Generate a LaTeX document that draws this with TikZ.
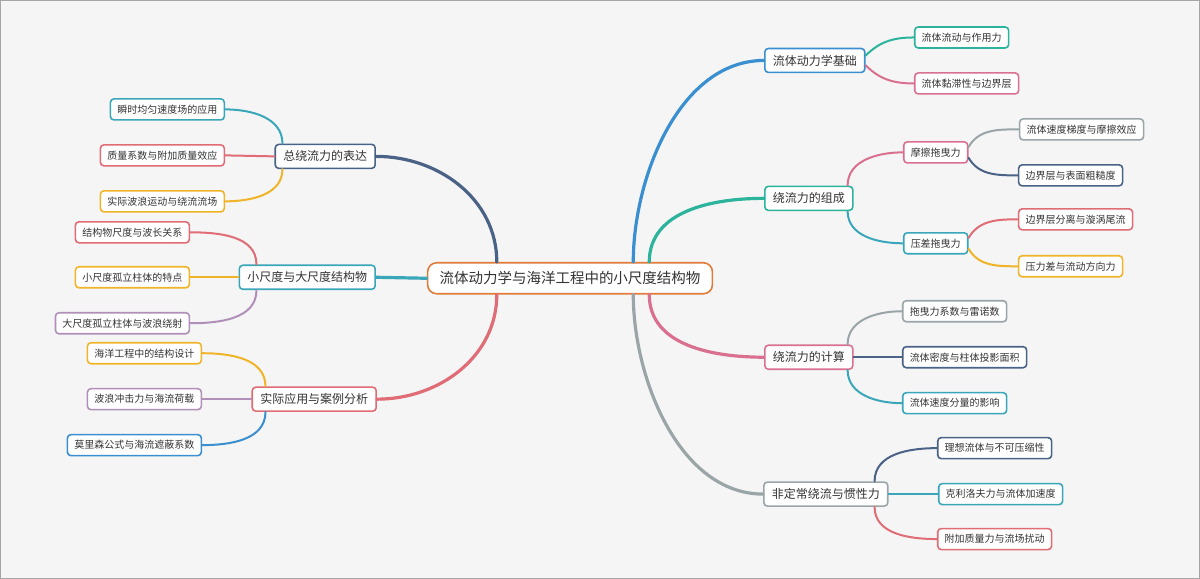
\documentclass[tikz,border=0pt]{standalone}
\usepackage{fontspec}
\usetikzlibrary{calc}
\setmainfont{Noto Sans CJK SC}
\definecolor{cblue}{HTML}{3A8FD0}
\definecolor{cteal}{HTML}{2BB39B}
\definecolor{cpink}{HTML}{D9708F}
\definecolor{cgray}{HTML}{9AA5A8}
\definecolor{ccyan}{HTML}{3AA6B9}
\definecolor{cdark}{HTML}{4A6285}
\definecolor{cred}{HTML}{E06C75}
\definecolor{cyel}{HTML}{F0B429}
\definecolor{cpur}{HTML}{B08FB8}
\definecolor{corg}{HTML}{E07B39}
\definecolor{ctext}{HTML}{333333}
\begin{document}
\begin{tikzpicture}[x=1pt,y=1pt,
  box/.style={draw=#1,fill=white,rounded corners=3.5pt,line width=1.6pt,text=ctext,inner xsep=7pt,inner ysep=0pt,anchor=center},
  leaf/.style={box=#1,minimum height=21pt,font=\fontsize{10}{11}\selectfont},
  lone/.style={box=#1,minimum height=24pt,font=\fontsize{12}{13}\selectfont,inner xsep=8pt},
  rootbox/.style={box=#1,minimum height=31pt,font=\fontsize{14.5}{15}\selectfont,rounded corners=9pt,inner xsep=12pt},
  main/.style={draw=#1,line width=3.2pt,line cap=round},
  sub/.style={draw=#1,line width=2pt,line cap=round}]
\fill[fill=white!96!black,draw=gray!70,line width=1pt] (0,0) rectangle (1200,-578);
\useasboundingbox (0,0) rectangle (1200,-578);
% root
\node[rootbox=corg] (root) at (570,-278) {流体动力学与海洋工程中的小尺度结构物};
% right level 1
\node[lone=cblue] (r1) at (815,-60) {流体动力学基础};
\node[lone=cteal] (r2) at (809,-198) {绕流力的组成};
\node[lone=cpink] (r3) at (809,-357) {绕流力的计算};
\node[lone=cgray] (r4) at (826,-494) {非定常绕流与惯性力};
% left level 1
\node[lone=cdark] (l1) at (325,-156) {总绕流力的表达};
\node[lone=ccyan] (l2) at (307,-277) {小尺度与大尺度结构物};
\node[lone=cred] (l3) at (314,-399) {实际应用与案例分析};
% right leaves
\node[leaf=cteal] (a1) at (962,-37) {流体流动与作用力};
\node[leaf=cpink] (a2) at (967,-83) {流体黏滞性与边界层};
\node[leaf=cpink] (b1) at (936,-152) {摩擦拖曳力};
\node[leaf=ccyan] (b2) at (936,-243) {压差拖曳力};
\node[leaf=cgray] (b11) at (1082,-129) {流体速度梯度与摩擦效应};
\node[leaf=cdark] (b12) at (1071,-175) {边界层与表面粗糙度};
\node[leaf=cred] (b21) at (1076,-219) {边界层分离与漩涡尾流};
\node[leaf=cyel] (b22) at (1071,-266) {压力差与流动方向力};
\node[leaf=cgray] (c1) at (955,-311) {拖曳力系数与雷诺数};
\node[leaf=cdark] (c2) at (965,-357) {流体密度与柱体投影面积};
\node[leaf=ccyan] (c3) at (955,-403) {流体速度分量的影响};
\node[leaf=cdark] (d1) at (995,-448) {理想流体与不可压缩性};
\node[leaf=ccyan] (d2) at (1001,-494) {克利洛夫力与流体加速度};
\node[leaf=cred] (d3) at (995,-539) {附加质量力与流场扰动};
% left leaves
\node[leaf=ccyan] (e1) at (167,-109) {瞬时均匀速度场的应用};
\node[leaf=cred] (e2) at (162,-155) {质量系数与附加质量效应};
\node[leaf=cyel] (e3) at (162,-201) {实际波浪运动与绕流流场};
\node[leaf=cred] (f1) at (132,-232) {结构物尺度与波长关系};
\node[leaf=cyel] (f2) at (132,-277) {小尺度孤立柱体的特点};
\node[leaf=cpur] (f3) at (122,-323) {大尺度孤立柱体与波浪绕射};
\node[leaf=cyel] (g1) at (144,-353) {海洋工程中的结构设计};
\node[leaf=cpur] (g2) at (144,-399) {波浪冲击力与海流荷载};
\node[leaf=cblue] (g3) at (134,-445) {莫里森公式与海流遮蔽系数};
% main connectors
\draw[main=cblue] ($(root.north east)+(-80,0)$) to[out=90,in=180,looseness=0.9] (r1.west);
\draw[main=cteal] ($(root.north east)+(-64,0)$) to[out=90,in=180] (r2.west);
\draw[main=cpink] ($(root.south east)+(-64,0)$) to[out=-90,in=180] (r3.west);
\draw[main=cgray] ($(root.south east)+(-80,0)$) to[out=-90,in=180,looseness=0.9] (r4.west);
\draw[main=cdark] ($(root.north west)+(70,0)$) to[out=90,in=0] (l1.east);
\draw[main=ccyan] (root.west) -- (l2.east);
\draw[main=cred] ($(root.south west)+(70,0)$) to[out=-90,in=0] (l3.east);
% right sub connectors
\draw[sub=cteal] ($(r1.north east)+(0,-8)$) to[out=45,in=180] (a1.west);
\draw[sub=cpink] ($(r1.south east)+(0,8)$) to[out=-45,in=180] (a2.west);
\draw[sub=cpink] ($(r2.north east)+(-6,0)$) to[out=90,in=180] (b1.west);
\draw[sub=ccyan] ($(r2.south east)+(-6,0)$) to[out=-90,in=180] (b2.west);
\draw[sub=cgray] ($(b1.north east)+(0,-6)$) to[out=60,in=180] (b11.west);
\draw[sub=cdark] ($(b1.south east)+(0,6)$) to[out=-60,in=180] (b12.west);
\draw[sub=cred] ($(b2.north east)+(0,-6)$) to[out=60,in=180] (b21.west);
\draw[sub=cyel] ($(b2.south east)+(0,6)$) to[out=-60,in=180] (b22.west);
\draw[sub=cgray] ($(r3.north east)+(-6,0)$) to[out=90,in=180] (c1.west);
\draw[sub=cdark] (r3.east) -- (c2.west);
\draw[sub=ccyan] ($(r3.south east)+(-6,0)$) to[out=-90,in=180] (c3.west);
\draw[sub=cdark] ($(r4.north east)+(-14,0)$) to[out=90,in=180] (d1.west);
\draw[sub=ccyan] (r4.east) -- (d2.west);
\draw[sub=cred] ($(r4.south east)+(-14,0)$) to[out=-90,in=180] (d3.west);
% left sub connectors
\draw[sub=ccyan] ($(l1.north west)+(8,0)$) to[out=90,in=0] (e1.east);
\draw[sub=cred] (l1.west) -- (e2.east);
\draw[sub=cyel] ($(l1.south west)+(8,0)$) to[out=-90,in=0] (e3.east);
\draw[sub=cred] ($(l2.north west)+(18,0)$) to[out=90,in=0] (f1.east);
\draw[sub=cyel] (l2.west) -- (f2.east);
\draw[sub=cpur] ($(l2.south west)+(18,0)$) to[out=-90,in=0] (f3.east);
\draw[sub=cyel] ($(l3.north west)+(14,0)$) to[out=90,in=0] (g1.east);
\draw[sub=cpur] (l3.west) -- (g2.east);
\draw[sub=cblue] ($(l3.south west)+(14,0)$) to[out=-90,in=0] (g3.east);
\end{tikzpicture}
\end{document}
